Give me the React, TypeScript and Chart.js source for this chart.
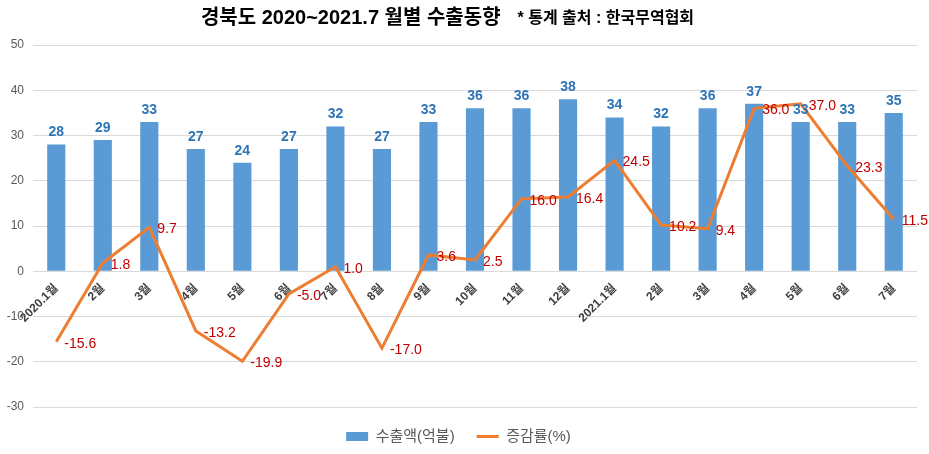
import React, { useEffect, useRef } from "react";
import { Chart, registerables } from "chart.js";

Chart.register(...registerables);

const categories = [
  "2020.1월", "2월", "3월", "4월", "5월", "6월", "7월", "8월", "9월", "10월", "11월", "12월",
  "2021.1월", "2월", "3월", "4월", "5월", "6월", "7월",
];
const exportValues = [28, 29, 33, 27, 24, 27, 32, 27, 33, 36, 36, 38, 34, 32, 36, 37, 33, 33, 35];
const changeRates = [-15.6, 1.8, 9.7, -13.2, -19.9, -5.0, 1.0, -17.0, 3.6, 2.5, 16.0, 16.4, 24.5, 10.2, 9.4, 36.0, 37.0, 23.3, 11.5];
const yTicks = [-30, -20, -10, 0, 10, 20, 30, 40, 50];
const titleMain = "경북도 2020~2021.7 월별 수출동향";
const titleNote = "* 통계 출처 : 한국무역협회";
const seriesNames = ["수출액(억불)", "증감률(%)"];

const FONT = "'Liberation Sans', 'Noto Sans CJK KR', sans-serif";

const labelsPlugin = {
  id: "customLabels",
  afterDatasetsDraw(chart: any) {
    const ctx = chart.ctx;
    ctx.save();
    const barMeta = chart.getDatasetMeta(0);
    ctx.font = `bold 14px ${FONT}`;
    ctx.fillStyle = "#2E75B6";
    ctx.textAlign = "center";
    ctx.textBaseline = "bottom";
    barMeta.data.forEach((el: any, i: number) => {
      ctx.fillText(String(exportValues[i]), el.x, el.y - 5);
    });
    const lineMeta = chart.getDatasetMeta(1);
    ctx.font = `14px ${FONT}`;
    ctx.fillStyle = "#C00000";
    ctx.textAlign = "left";
    ctx.textBaseline = "middle";
    lineMeta.data.forEach((el: any, i: number) => {
      ctx.fillText(changeRates[i].toFixed(1), el.x + 8, el.y + 2);
    });
    ctx.restore();
  },
  afterDraw(chart: any) {
    const ctx = chart.ctx;
    ctx.save();
    ctx.fillStyle = "#000000";
    ctx.textBaseline = "middle";
    ctx.textAlign = "left";
    ctx.font = `bold 20px ${FONT}`;
    const w1 = ctx.measureText(titleMain).width;
    ctx.font = `bold 16px ${FONT}`;
    const w2 = ctx.measureText(titleNote).width;
    const gap = 17;
    const total = w1 + gap + w2;
    const x0 = chart.width / 2 - total / 2 - 17;
    ctx.font = `bold 20px ${FONT}`;
    ctx.fillText(titleMain, x0, 18);
    ctx.font = `bold 16px ${FONT}`;
    ctx.fillText(titleNote, x0 + w1 + gap, 19);
    ctx.restore();
  },
};

export default function App() {
  const canvasRef = useRef<HTMLCanvasElement | null>(null);

  useEffect(() => {
    if (!canvasRef.current) return;
    const chart = new Chart(canvasRef.current, {
      type: "bar",
      data: {
        labels: categories,
        datasets: [
          {
            type: "bar",
            label: seriesNames[0],
            data: exportValues,
            backgroundColor: "#5B9BD5",
            borderWidth: 0,
            barPercentage: 0.39,
            categoryPercentage: 1,
            order: 2,
            pointStyle: "rect",
          } as any,
          {
            type: "line",
            label: seriesNames[1],
            data: changeRates,
            borderColor: "#ED7D31",
            backgroundColor: "#ED7D31",
            borderWidth: 3,
            pointRadius: 0,
            tension: 0,
            order: 1,
            pointStyle: "line",
          } as any,
        ],
      },
      options: {
        responsive: true,
        maintainAspectRatio: false,
        animation: false,
        layout: { padding: { top: 45, left: 0, right: 12, bottom: 0 } },
        plugins: {
          title: { display: false },
          tooltip: { enabled: false },
          legend: {
            position: "bottom",
            labels: {
              usePointStyle: true,
              pointStyleWidth: 22,
              boxHeight: 9,
              color: "#595959",
              font: { family: FONT, size: 15 },
              padding: 22,
              sort: (a: any, b: any) => a.datasetIndex - b.datasetIndex,
            },
          },
        },
        scales: {
          x: {
            position: { y: 0 } as any,
            grid: { display: false },
            border: { display: false },
            afterFit: (scale: any) => {
              scale.paddingLeft = 0;
              scale.paddingRight = 0;
            },
            ticks: {
              autoSkip: false,
              maxRotation: 45,
              minRotation: 45,
              color: "#404040",
              font: { family: FONT, size: 12, weight: "bold" },
              padding: 2,
            },
          },
          y: {
            min: -30,
            max: 50,
            afterBuildTicks: (scale: any) => {
              scale.ticks = yTicks.map((v) => ({ value: v }));
            },
            afterFit: (scale: any) => {
              scale.width = 33;
            },
            grid: { color: "#D9D9D9", drawTicks: false, lineWidth: 1 },
            border: { display: false },
            ticks: {
              color: "#595959",
              font: { family: FONT, size: 12 },
              padding: 9,
            },
          },
        },
      },
      plugins: [labelsPlugin],
    });
    return () => chart.destroy();
  }, []);

  return (
    <div style={{ position: "fixed", left: 0, top: 0, width: 929, height: 454, background: "#ffffff" }}>
      <canvas ref={canvasRef} />
    </div>
  );
}
